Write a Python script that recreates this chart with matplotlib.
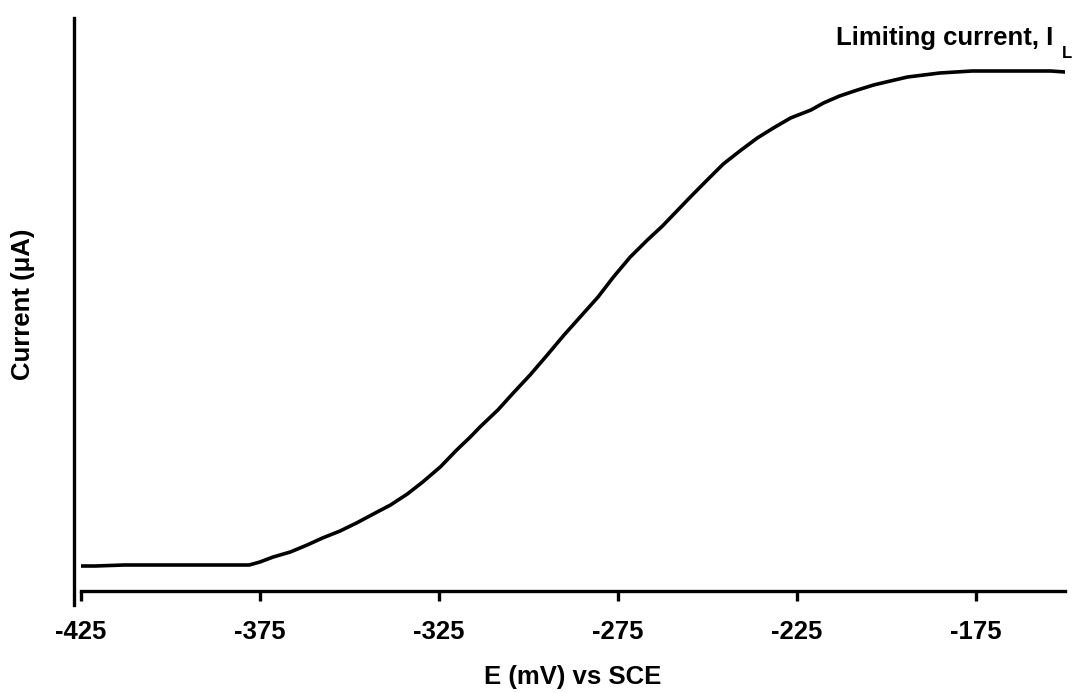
import matplotlib
matplotlib.use("Agg")
import matplotlib.pyplot as plt
from matplotlib.lines import Line2D

# potential (mV vs SCE) and current (arbitrary units)
potential = [-425, -421, -413, -378, -375, -371.3, -366.5, -361.8, -357.5, -352.6,
             -348, -343.3, -338.5, -333.8, -329.5, -324.6, -320, -316.2, -313.5,
             -308.5, -304.2, -299.5, -294.7, -290, -285.5, -280.5, -276.2, -271.5,
             -266.7, -262.5, -254.7, -250, -245.5, -240.5, -236, -231.5, -226.7,
             -221, -217.5, -213, -208, -203.5, -198.8, -194, -189.5, -185, -176,
             -160, -154, -150]
current = [25, 25, 26, 26, 29, 34, 39, 46, 53, 60,
           68, 77, 86, 97, 109, 124, 141, 154, 164,
           181, 198, 216, 236, 256, 274, 294, 314, 334,
           351, 365, 394, 411, 427, 441, 453, 463, 473,
           481, 488, 495, 501, 506, 510, 514, 516, 518, 520,
           520, 520, 519]
xticks = [-425, -375, -325, -275, -225, -175]

plt.rcParams["font.family"] = ["Liberation Sans", "DejaVu Sans"]
plt.rcParams["font.weight"] = "bold"

W, H = 1084, 693
fig = plt.figure(figsize=(W / 100, H / 100), dpi=100)
ax = fig.add_axes([81 / W, (H - 591) / H, (1065 - 81) / W, (591 - 18) / H])

ax.plot(potential, current, color="black", lw=2.6, solid_joinstyle="round")

ax.set_xlim(-425, -150)
ax.set_ylim(0, 573)
ax.set_xticks(xticks)
ax.set_xticklabels([str(t) for t in xticks], fontsize=18.5, fontweight="bold")
ax.set_yticks([])
ax.tick_params(axis="x", direction="out", length=7, width=2.4, pad=14)

for s in ["top", "right", "left"]:
    ax.spines[s].set_visible(False)
ax.spines["bottom"].set_linewidth(2.4)

# y axis line drawn a little left of the x axis start, running past it
fig.add_artist(Line2D([73.5 / W, 73.5 / W], [1 - 18 / H, 1 - 605 / H],
                      color="black", lw=2.4, transform=fig.transFigure))

ax.set_xlabel("E (mV) vs SCE", fontsize=18.5, fontweight="bold")
ax.xaxis.set_label_coords(0.5, -0.15)
ax.xaxis.label.set_va("center")
ax.set_ylabel("Current (\u03bcA)", fontsize=18.5, fontweight="bold")
ax.yaxis.set_label_coords(-0.059, 0.5)
ax.yaxis.label.set_va("center")

fig.text(1053 / W, 1 - 45 / H, "Limiting current, I", fontsize=18.5,
         fontweight="bold", ha="right", va="baseline")
fig.text(1062 / W, 1 - 58 / H, "L", fontsize=12, fontweight="bold",
         ha="left", va="baseline")

fig.savefig("out.png", dpi=100)
